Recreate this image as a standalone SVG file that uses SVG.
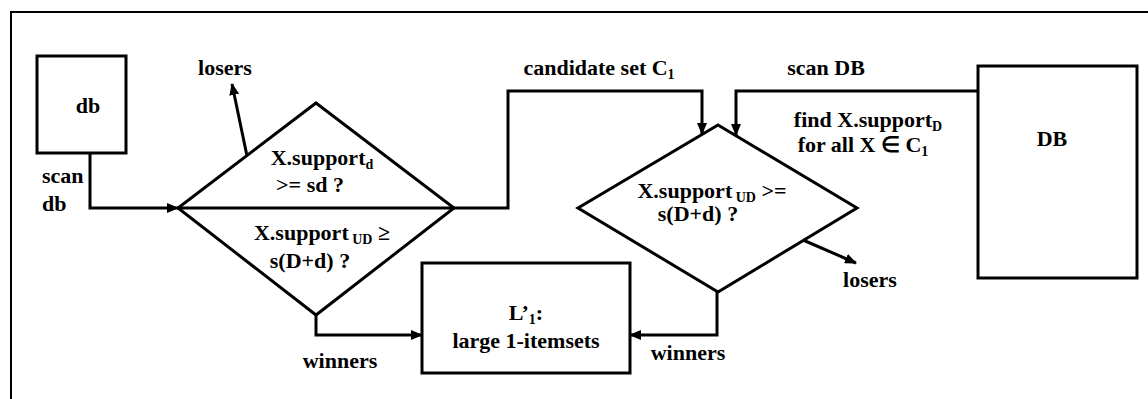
<svg xmlns="http://www.w3.org/2000/svg" width="1148" height="399" viewBox="0 0 1148 399">
<style>
.t{font-family:"Liberation Serif","Times New Roman",serif;font-weight:bold;font-size:22px;fill:#000}
.m{text-anchor:middle}
.s{font-size:14px}
.shape{fill:#fff;stroke:#000;stroke-width:3}
.ln{fill:none;stroke:#000;stroke-width:3}
.frame{fill:none;stroke:#000;stroke-width:2}
</style>
<defs>
<marker id="ah" markerUnits="userSpaceOnUse" markerWidth="12" markerHeight="10" refX="11" refY="5" orient="auto">
<path d="M0,0 L12,5 L0,10 z" fill="#000"/>
</marker>
</defs>
<rect width="1148" height="399" fill="#fff"/>
<path class="frame" d="M11,399 L11,12 L1148,12"/>

<g id="db">
<rect class="shape" x="37" y="56" width="89" height="97"/>
<text class="t m" x="88" y="113">db</text>
</g>

<g id="DB">
<rect class="shape" x="978" y="66" width="159" height="212"/>
<text class="t m" x="1052" y="146">DB</text>
</g>

<g id="decision1">
<polygon class="shape" points="316,103 454,208 316,315 178,208"/>
<line class="ln" x1="178" y1="208" x2="454" y2="208"/>
<text class="t m" x="322" y="165">X.support<tspan class="s" dy="4">d</tspan></text>
<text class="t m" x="310" y="192">&gt;= sd ?</text>
<text class="t m" x="322" y="240">X.support<tspan class="s" dy="4"> UD</tspan><tspan dy="-4"> ≥</tspan></text>
<text class="t m" x="310" y="268">s(D+d) ?</text>
</g>

<g id="decision2">
<polygon class="shape" points="718,125 857,208 718,292 578,208"/>
<text class="t m" x="712" y="198">X.support<tspan class="s" dy="4"> UD</tspan><tspan dy="-4"> &gt;=</tspan></text>
<text class="t m" x="698" y="221">s(D+d) ?</text>
</g>

<g id="L1">
<rect class="shape" x="422" y="263" width="208" height="110"/>
<text class="t m" x="526" y="320">L’<tspan class="s" dy="4">1</tspan><tspan dy="-4">:</tspan></text>
<text class="t m" x="526" y="348">large 1-itemsets</text>
</g>

<g id="connectors">
<polyline class="ln" points="90,153 90,208 178,208" marker-end="url(#ah)"/>
<polyline class="ln" points="454,208 508,208 508,91 702,91 702,134" marker-end="url(#ah)"/>
<polyline class="ln" points="978,91 736,91 736,135" marker-end="url(#ah)"/>
<line class="ln" x1="247" y1="156" x2="232" y2="84" marker-end="url(#ah)"/>
<line class="ln" x1="803" y1="240" x2="856" y2="263" marker-end="url(#ah)"/>
<polyline class="ln" points="316,315 316,335 422,335" marker-end="url(#ah)"/>
<polyline class="ln" points="717,292 717,335 630,335" marker-end="url(#ah)"/>
</g>

<g id="labels">
<text class="t" x="42" y="183">scan</text>
<text class="t" x="42" y="211">db</text>
<text class="t m" x="225" y="75">losers</text>
<text class="t m" x="599" y="75">candidate set C<tspan class="s" dy="4">1</tspan></text>
<text class="t m" x="826" y="75">scan DB</text>
<text class="t m" x="868" y="127">find X.support<tspan class="s" dy="4">D</tspan></text>
<text class="t m" x="863" y="152">for all X ∈ C<tspan class="s" dy="4">1</tspan></text>
<text class="t m" x="870" y="287">losers</text>
<text class="t m" x="340" y="368">winners</text>
<text class="t m" x="688" y="360">winners</text>
</g>
</svg>
